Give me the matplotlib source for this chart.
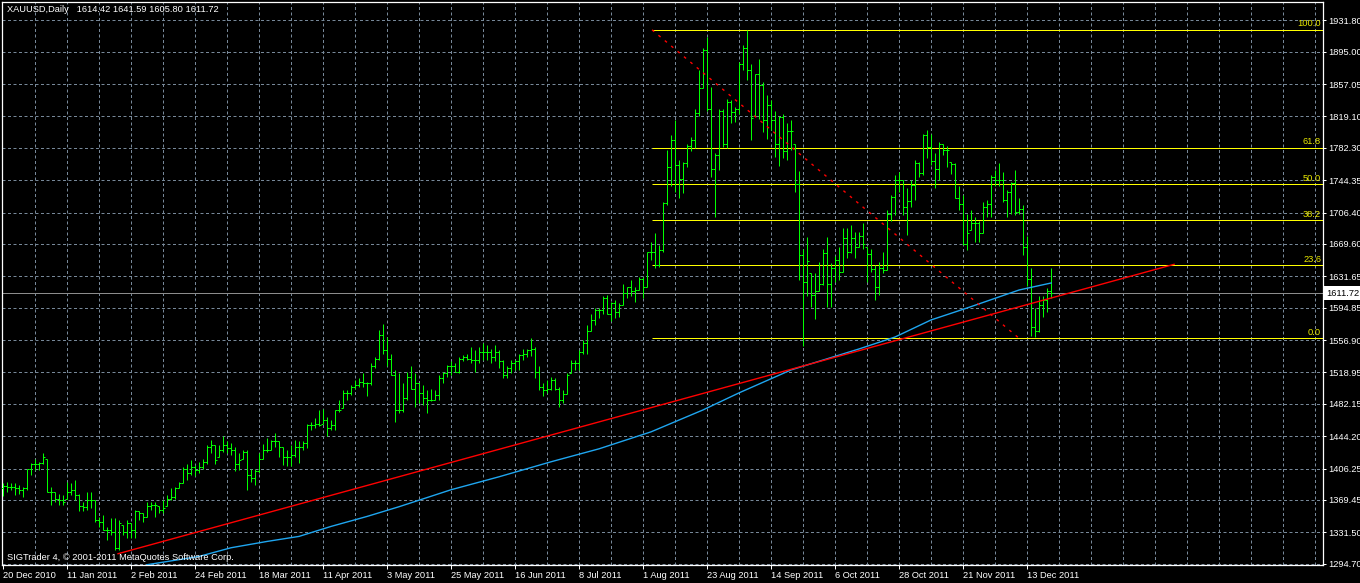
import matplotlib
matplotlib.use("Agg")
import matplotlib.pyplot as plt
import matplotlib.transforms as mtransforms
from matplotlib.ticker import FixedLocator, NullFormatter
import numpy as np

plt.rcParams['font.family'] = ['Liberation Sans', 'DejaVu Sans']

# ---------------- data (daily XAUUSD bars, index 0 = 20 Dec 2010) ----------------
opens = [1383, 1386, 1385, 1385, 1383, 1381, 1383, 1406, 1412, 1412,
         1413, 1417, 1379, 1379, 1371, 1369, 1371, 1379, 1381, 1375,
         1362, 1361, 1369, 1369, 1346, 1344, 1334, 1334, 1332, 1313,
         1340, 1332, 1342, 1334, 1356, 1354, 1350, 1362, 1364, 1362,
         1358, 1362, 1371, 1373, 1383, 1389, 1406, 1401, 1408, 1404,
         1408, 1414, 1432, 1434, 1420, 1428, 1434, 1430, 1428, 1412,
         1418, 1426, 1399, 1395, 1403, 1418, 1428, 1428, 1438, 1438,
         1432, 1420, 1420, 1422, 1432, 1432, 1436, 1457, 1457, 1459,
         1459, 1463, 1454, 1457, 1475, 1477, 1495, 1495, 1502, 1504,
         1508, 1506, 1506, 1526, 1535, 1563, 1545, 1535, 1516, 1475,
         1475, 1489, 1514, 1500, 1506, 1495, 1489, 1487, 1487, 1493,
         1512, 1518, 1526, 1526, 1520, 1535, 1537, 1535, 1534, 1534,
         1543, 1543, 1543, 1537, 1543, 1532, 1516, 1524, 1530, 1532,
         1539, 1541, 1545, 1547, 1520, 1502, 1498, 1500, 1510, 1500,
         1487, 1494, 1518, 1530, 1530, 1543, 1553, 1567, 1580, 1592,
         1592, 1606, 1588, 1600, 1590, 1598, 1612, 1619, 1614, 1616,
         1629, 1619, 1660, 1660, 1645, 1662, 1718, 1760, 1792, 1762,
         1746, 1764, 1785, 1791, 1823, 1852, 1897, 1828, 1758, 1774,
         1826, 1787, 1836, 1824, 1828, 1881, 1899, 1874, 1820, 1869,
         1856, 1815, 1832, 1815, 1787, 1819, 1778, 1802, 1787, 1740,
         1657, 1625, 1635, 1610, 1614, 1623, 1659, 1623, 1641, 1651,
         1637, 1676, 1660, 1676, 1666, 1679, 1666, 1658, 1640, 1619,
         1641, 1639, 1705, 1725, 1744, 1744, 1713, 1720, 1739, 1764,
         1753, 1797, 1783, 1767, 1758, 1787, 1780, 1766, 1763, 1724,
         1717, 1670, 1686, 1694, 1694, 1682, 1713, 1716, 1748, 1744,
         1744, 1721, 1730, 1741, 1707, 1710, 1666, 1629, 1572, 1567,
         1598, 1604, 1614.42]

highs = [1389, 1391, 1389, 1389, 1387, 1385, 1406, 1413, 1418, 1414,
         1424, 1417, 1385, 1379, 1377, 1375, 1391, 1389, 1393, 1377,
         1367, 1379, 1379, 1369, 1350, 1352, 1338, 1348, 1348, 1346,
         1340, 1346, 1342, 1358, 1356, 1354, 1367, 1367, 1367, 1362,
         1369, 1375, 1383, 1385, 1391, 1408, 1412, 1416, 1410, 1414,
         1418, 1434, 1440, 1434, 1434, 1445, 1438, 1436, 1432, 1424,
         1428, 1428, 1406, 1406, 1424, 1435, 1442, 1440, 1448, 1438,
         1432, 1428, 1434, 1440, 1438, 1438, 1459, 1461, 1465, 1475,
         1476, 1467, 1463, 1475, 1487, 1498, 1498, 1504, 1510, 1512,
         1518, 1508, 1530, 1537, 1569, 1576, 1561, 1541, 1522, 1518,
         1506, 1520, 1526, 1518, 1506, 1504, 1498, 1500, 1498, 1516,
         1520, 1528, 1532, 1530, 1537, 1539, 1541, 1549, 1545, 1549,
         1553, 1551, 1547, 1551, 1545, 1534, 1526, 1534, 1534, 1541,
         1547, 1547, 1559, 1549, 1526, 1506, 1510, 1514, 1512, 1502,
         1498, 1518, 1534, 1534, 1545, 1557, 1575, 1588, 1594, 1594,
         1608, 1610, 1602, 1604, 1600, 1623, 1619, 1627, 1619, 1631,
         1631, 1660, 1672, 1682, 1668, 1719, 1780, 1797, 1815, 1768,
         1766, 1787, 1795, 1828, 1873, 1899, 1912, 1854, 1776, 1828,
         1828, 1840, 1838, 1830, 1883, 1903, 1920, 1881, 1869, 1886,
         1860, 1844, 1838, 1826, 1820, 1822, 1811, 1815, 1787, 1755,
         1664, 1678, 1635, 1635, 1649, 1664, 1678, 1647, 1655, 1666,
         1688, 1688, 1692, 1684, 1684, 1694, 1666, 1664, 1645, 1649,
         1660, 1709, 1727, 1750, 1754, 1744, 1735, 1744, 1768, 1766,
         1799, 1803, 1799, 1776, 1789, 1787, 1785, 1766, 1764, 1737,
         1727, 1705, 1709, 1701, 1697, 1719, 1721, 1750, 1756, 1764,
         1754, 1733, 1742, 1756, 1723, 1715, 1679, 1641, 1594, 1608,
         1608, 1618, 1641.59]

lows = [1374, 1379, 1381, 1375, 1377, 1373, 1381, 1399, 1404, 1404,
        1412, 1379, 1364, 1367, 1364, 1364, 1371, 1375, 1369, 1356,
        1357, 1358, 1360, 1344, 1338, 1334, 1323, 1328, 1311, 1311,
        1328, 1325, 1325, 1325, 1346, 1344, 1350, 1358, 1350, 1354,
        1354, 1362, 1369, 1371, 1383, 1389, 1393, 1399, 1397, 1401,
        1406, 1412, 1424, 1412, 1420, 1426, 1424, 1422, 1403, 1404,
        1418, 1381, 1391, 1387, 1401, 1418, 1426, 1428, 1432, 1420,
        1411, 1409, 1409, 1420, 1413, 1428, 1430, 1452, 1454, 1456,
        1459, 1444, 1452, 1452, 1473, 1477, 1487, 1493, 1500, 1502,
        1502, 1491, 1504, 1524, 1534, 1541, 1526, 1516, 1461, 1471,
        1472, 1487, 1500, 1479, 1483, 1481, 1471, 1485, 1487, 1487,
        1506, 1514, 1516, 1520, 1518, 1532, 1534, 1530, 1520, 1530,
        1534, 1534, 1530, 1532, 1524, 1512, 1512, 1518, 1522, 1522,
        1534, 1537, 1538, 1512, 1498, 1491, 1495, 1498, 1498, 1479,
        1483, 1494, 1518, 1522, 1522, 1541, 1540, 1567, 1575, 1583,
        1588, 1588, 1579, 1583, 1584, 1598, 1606, 1608, 1602, 1616,
        1606, 1619, 1651, 1641, 1643, 1660, 1715, 1737, 1731, 1723,
        1729, 1760, 1778, 1782, 1820, 1852, 1826, 1748, 1701, 1756,
        1783, 1782, 1811, 1813, 1822, 1873, 1862, 1791, 1820, 1816,
        1801, 1793, 1803, 1772, 1761, 1770, 1768, 1780, 1731, 1627,
        1550, 1608, 1596, 1582, 1614, 1621, 1596, 1596, 1625, 1627,
        1637, 1653, 1659, 1653, 1666, 1664, 1625, 1637, 1604, 1610,
        1635, 1639, 1696, 1703, 1731, 1703, 1680, 1713, 1721, 1748,
        1750, 1770, 1762, 1735, 1744, 1774, 1760, 1752, 1723, 1709,
        1668, 1662, 1686, 1672, 1672, 1682, 1701, 1701, 1737, 1737,
        1719, 1701, 1705, 1703, 1705, 1657, 1620, 1562, 1560, 1566,
        1584, 1590, 1605.80]

closes = [1386, 1385, 1385, 1383, 1381, 1383, 1406, 1412, 1412, 1413,
          1420, 1379, 1379, 1371, 1369, 1367, 1379, 1381, 1375, 1362,
          1361, 1369, 1369, 1346, 1344, 1334, 1334, 1332, 1313, 1342,
          1332, 1342, 1334, 1356, 1354, 1350, 1362, 1364, 1364, 1358,
          1360, 1371, 1373, 1383, 1389, 1406, 1401, 1408, 1404, 1408,
          1414, 1432, 1434, 1416, 1428, 1434, 1430, 1428, 1412, 1416,
          1426, 1399, 1395, 1403, 1418, 1428, 1428, 1438, 1438, 1432,
          1420, 1420, 1422, 1432, 1432, 1436, 1457, 1457, 1459, 1457,
          1463, 1454, 1457, 1475, 1475, 1495, 1495, 1502, 1504, 1508,
          1506, 1506, 1526, 1535, 1563, 1545, 1535, 1516, 1475, 1475,
          1489, 1514, 1500, 1506, 1495, 1489, 1487, 1487, 1493, 1512,
          1518, 1526, 1526, 1520, 1535, 1537, 1535, 1534, 1534, 1543,
          1543, 1543, 1537, 1543, 1532, 1516, 1524, 1530, 1532, 1539,
          1541, 1545, 1547, 1520, 1502, 1498, 1500, 1510, 1500, 1487,
          1494, 1516, 1530, 1530, 1543, 1553, 1567, 1580, 1592, 1592,
          1606, 1588, 1600, 1590, 1598, 1612, 1619, 1614, 1616, 1629,
          1619, 1660, 1660, 1645, 1662, 1718, 1760, 1792, 1762, 1746,
          1764, 1785, 1791, 1823, 1852, 1897, 1828, 1758, 1774, 1826,
          1787, 1836, 1824, 1828, 1881, 1899, 1874, 1817, 1869, 1856,
          1815, 1832, 1815, 1787, 1819, 1778, 1802, 1802, 1740, 1657,
          1625, 1650, 1610, 1614, 1623, 1659, 1623, 1641, 1651, 1637,
          1676, 1660, 1676, 1666, 1679, 1670, 1658, 1640, 1619, 1641,
          1639, 1705, 1725, 1744, 1744, 1713, 1720, 1739, 1764, 1753,
          1797, 1783, 1767, 1758, 1787, 1780, 1780, 1763, 1724, 1717,
          1670, 1682, 1694, 1694, 1682, 1713, 1716, 1748, 1744, 1744,
          1721, 1730, 1741, 1707, 1710, 1666, 1629, 1572, 1567, 1598,
          1604, 1615, 1611.72]

# 200-day moving average, read at selected bars
ma_bars = [36, 49, 57, 66, 74, 82, 91, 99, 112, 124, 137, 149, 162, 175, 184,
           197, 214, 223, 232, 241, 254, 262]
ma_values = [1293.5, 1303.2, 1313.4, 1320.8, 1326.7, 1338.4, 1350.1, 1361.5,
             1381.4, 1396.6, 1414.2, 1429.4, 1449.3, 1475.0, 1495.0, 1521.9,
             1546.5, 1560.5, 1580.5, 1594.5, 1615.6, 1623.8]

# trend line anchors (bar, price)
trend_bars = [28.75, 292.75]
trend_prices = [1306.4, 1645.7]

# Fibonacci retracement anchors (bar, price)
fib_bars = [162.25, 254.0]
fib_prices = [1920.6, 1559.0]
fib_levels = [0.0, 23.6, 38.2, 50.0, 61.8, 100.0]
fib_labels = ["0.0", "23.6", "38.2", "50.0", "61.8", "100.0"]

last_price = 1611.72

date_labels = ["20 Dec 2010", "11 Jan 2011", "2 Feb 2011", "24 Feb 2011",
               "18 Mar 2011", "11 Apr 2011", "3 May 2011", "25 May 2011",
               "16 Jun 2011", "8 Jul 2011", "1 Aug 2011", "23 Aug 2011",
               "14 Sep 2011", "6 Oct 2011", "28 Oct 2011", "21 Nov 2011",
               "13 Dec 2011"]
date_label_bars = list(range(0, 257, 16))

price_labels = ["1931.80", "1895.00", "1857.05", "1819.10", "1782.30",
                "1744.35", "1706.40", "1669.60", "1631.65", "1594.85",
                "1556.90", "1518.95", "1482.15", "1444.20", "1406.25",
                "1369.45", "1331.50", "1294.70"]

title_text = "XAUUSD,Daily   1614.42 1641.59 1605.80 1611.72"
copyright_text = "SIGTrader 4, \u00a9 2001-2011 MetaQuotes Software Corp."

# ---------------- drawing ----------------
W, H = 1360, 583
fig = plt.figure(figsize=(W / 100, H / 100), dpi=100, facecolor="black")
ax = fig.add_axes([1.7 / W, (H - 564.7) / H, (1322.7 - 1.7) / W, (564.7 - 2.3) / H])
ax.set_facecolor("black")

BAR = "#00ff00"
GRID = "#778899"
FS = 6.7
THIN = 0.72

x = np.arange(len(closes))
kw = dict(colors=BAR, lw=THIN, zorder=3, antialiased=True, snap=True)
ax.vlines(x, lows, highs, **kw)
ax.hlines(opens, x - 0.5, x, **kw)
ax.hlines(closes, x, x + 0.5, **kw)

# moving average & objects
ax.plot(ma_bars, ma_values, color="#1fa6f0", lw=1.0, zorder=4)
ax.plot(trend_bars, trend_prices, color="#ff0000", lw=1.0, zorder=4)
ax.plot(fib_bars, fib_prices, color="#ff0000", lw=1.0,
        linestyle=(0, (2, 4)), zorder=4)

xmax = 329.9
fib_lo, fib_hi = fib_prices[1], fib_prices[0]
for lev, lab in zip(fib_levels, fib_labels):
    yv = fib_lo + (fib_hi - fib_lo) * lev / 100.0
    ax.hlines(yv, fib_bars[0], xmax, colors="#ffff00", lw=THIN, zorder=2,
              antialiased=True, snap=True)
    ax.text(xmax - 0.4, yv + 1.6, lab, color="#e8e800", fontsize=FS,
            ha="right", va="bottom", zorder=5)

ax.axhline(last_price, color="#8c8c8c", lw=THIN, zorder=1, snap=True)

# axes limits
ax.set_xlim(-0.325, xmax)
ax.set_ylim(1293.53, 1952.90)

# ticks / grid
price_vals = [float(p) for p in price_labels]
ax.yaxis.tick_right()
ax.yaxis.set_major_locator(FixedLocator(price_vals))
ax.set_yticklabels(price_labels)
ax.xaxis.set_major_locator(FixedLocator(date_label_bars))
ax.set_xticklabels(date_labels, ha="left")
ax.xaxis.set_minor_locator(FixedLocator(list(range(8, 330, 8))))
ax.xaxis.remove_overlapping_locs = False
ax.xaxis.set_minor_formatter(NullFormatter())

ax.tick_params(axis="y", which="major", direction="out", length=2.5, width=0.72,
               color="white", labelcolor="white", labelsize=FS, pad=1.5)
ax.tick_params(axis="x", which="major", direction="out", length=3.0, width=0.72,
               color="white", labelcolor="white", labelsize=FS, pad=1.5)
ax.tick_params(axis="x", which="minor", length=0)
for lbl in ax.get_xticklabels():
    lbl.set_horizontalalignment("left")

ax.grid(axis="y", which="major", color=GRID, lw=0.72, linestyle=(0, (3, 2.5)), zorder=0)
ax.grid(axis="x", which="minor", color=GRID, lw=0.72, linestyle=(0, (3, 2.5)), zorder=0)
ax.set_axisbelow(True)

for s in ax.spines.values():
    s.set_color("white")
    s.set_linewidth(0.9)

# current price box
trans = mtransforms.blended_transform_factory(ax.transAxes, ax.transData)
ax.text(1.0025, last_price, "1611.72", transform=trans, color="black",
        fontsize=FS, ha="left", va="center", zorder=6, clip_on=False,
        bbox=dict(boxstyle="square,pad=0.25", fc="white", ec="none"))

fig.text(7 / W, 1 - 10 / H, title_text, color="white", fontsize=FS,
         ha="left", va="center")
fig.text(7 / W, 1 - 557 / H, copyright_text, color="white", fontsize=FS,
         ha="left", va="center", zorder=10)

fig.savefig("out.png", dpi=100, facecolor="black")
